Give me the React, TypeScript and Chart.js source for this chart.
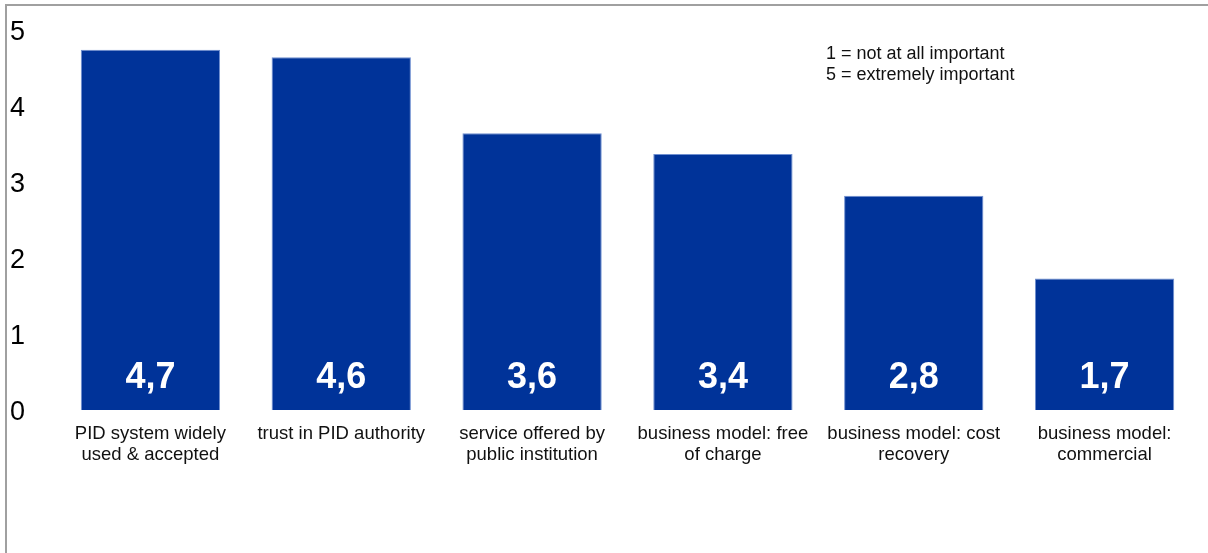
import React, { useEffect, useRef } from "react";
import { Chart, registerables } from "chart.js";

Chart.register(...registerables);

const categories: string[][] = [
  ["PID system widely", "used & accepted"],
  ["trust in PID authority"],
  ["service offered by", "public institution"],
  ["business model: free", "of charge"],
  ["business model: cost", "recovery"],
  ["business model:", "commercial"],
];

const meanScores: number[] = [4.74, 4.64, 3.64, 3.37, 2.82, 1.73];

const yTicks: number[] = [0, 1, 2, 3, 4, 5];

const noteLines: string[] = ["1 = not at all important", "5 = extremely important"];

const FONT = "'Liberation Sans', Arial, Helvetica, sans-serif";
const BAR_COLOR = "#003399";

const valueLabelPlugin = {
  id: "valueLabels",
  afterDatasetsDraw(chart: any) {
    const ctx = chart.ctx;
    const meta = chart.getDatasetMeta(0);
    ctx.save();
    ctx.fillStyle = "#ffffff";
    ctx.font = `bold 36px ${FONT}`;
    ctx.textAlign = "center";
    ctx.textBaseline = "middle";
    meta.data.forEach((bar: any, i: number) => {
      const txt = meanScores[i].toFixed(1).replace(".", ",");
      ctx.fillText(txt, bar.x, bar.base - 32);
    });
    ctx.restore();
  },
};

export default function App() {
  const canvasRef = useRef<HTMLCanvasElement | null>(null);

  useEffect(() => {
    if (!canvasRef.current) return;
    const chart = new Chart(canvasRef.current, {
      type: "bar",
      data: {
        labels: categories,
        datasets: [
          {
            data: meanScores,
            backgroundColor: BAR_COLOR,
            borderColor: "#6f8fd0",
            borderWidth: 1,
            barPercentage: 0.73,
            categoryPercentage: 1,
          },
        ],
      },
      options: {
        responsive: false,
        animation: false,
        layout: { padding: { left: 10, right: 8, top: 30, bottom: 0 } },
        plugins: {
          legend: { display: false },
          tooltip: { enabled: false },
        },
        scales: {
          x: {
            grid: { display: false, drawTicks: false },
            border: { display: false },
            ticks: {
              color: "#111",
              font: { family: FONT, size: 18.5, lineHeight: 1.16 },
              padding: 13,
              maxRotation: 0,
              autoSkip: false,
            },
            afterFit: (scale: any) => {
              scale.height = 143;
            },
          },
          y: {
            min: 0,
            max: 5,
            grid: { display: false, drawTicks: false },
            border: { display: false },
            afterBuildTicks: (scale: any) => {
              scale.ticks = yTicks.map((v) => ({ value: v }));
            },
            ticks: {
              color: "#000",
              font: { family: FONT, size: 27 },
              crossAlign: "far",
              padding: 0,
              labelOffset: 3,
            },
            afterFit: (scale: any) => {
              scale.width = 45;
            },
          },
        },
      },
      plugins: [valueLabelPlugin],
    });
    return () => chart.destroy();
  }, []);

  return (
    <div
      style={{
        position: "fixed",
        left: 0,
        top: 0,
        width: 1208,
        height: 553,
        background: "#fff",
        overflow: "hidden",
      }}
    >
      <canvas ref={canvasRef} width={1208} height={553} style={{ position: "absolute", left: 0, top: 0 }} />
      <div
        style={{
          position: "absolute",
          left: 5,
          top: 4,
          width: 1208,
          height: 560,
          borderTop: "2px solid #a0a0a0",
          borderLeft: "2px solid #a0a0a0",
          pointerEvents: "none",
        }}
      />
      <div
        style={{
          position: "absolute",
          left: 826,
          top: 43,
          fontFamily: FONT,
          fontSize: 18,
          lineHeight: "21px",
          color: "#111",
        }}
      >
        {noteLines.map((l, i) => (
          <div key={i}>{l}</div>
        ))}
      </div>
    </div>
  );
}
